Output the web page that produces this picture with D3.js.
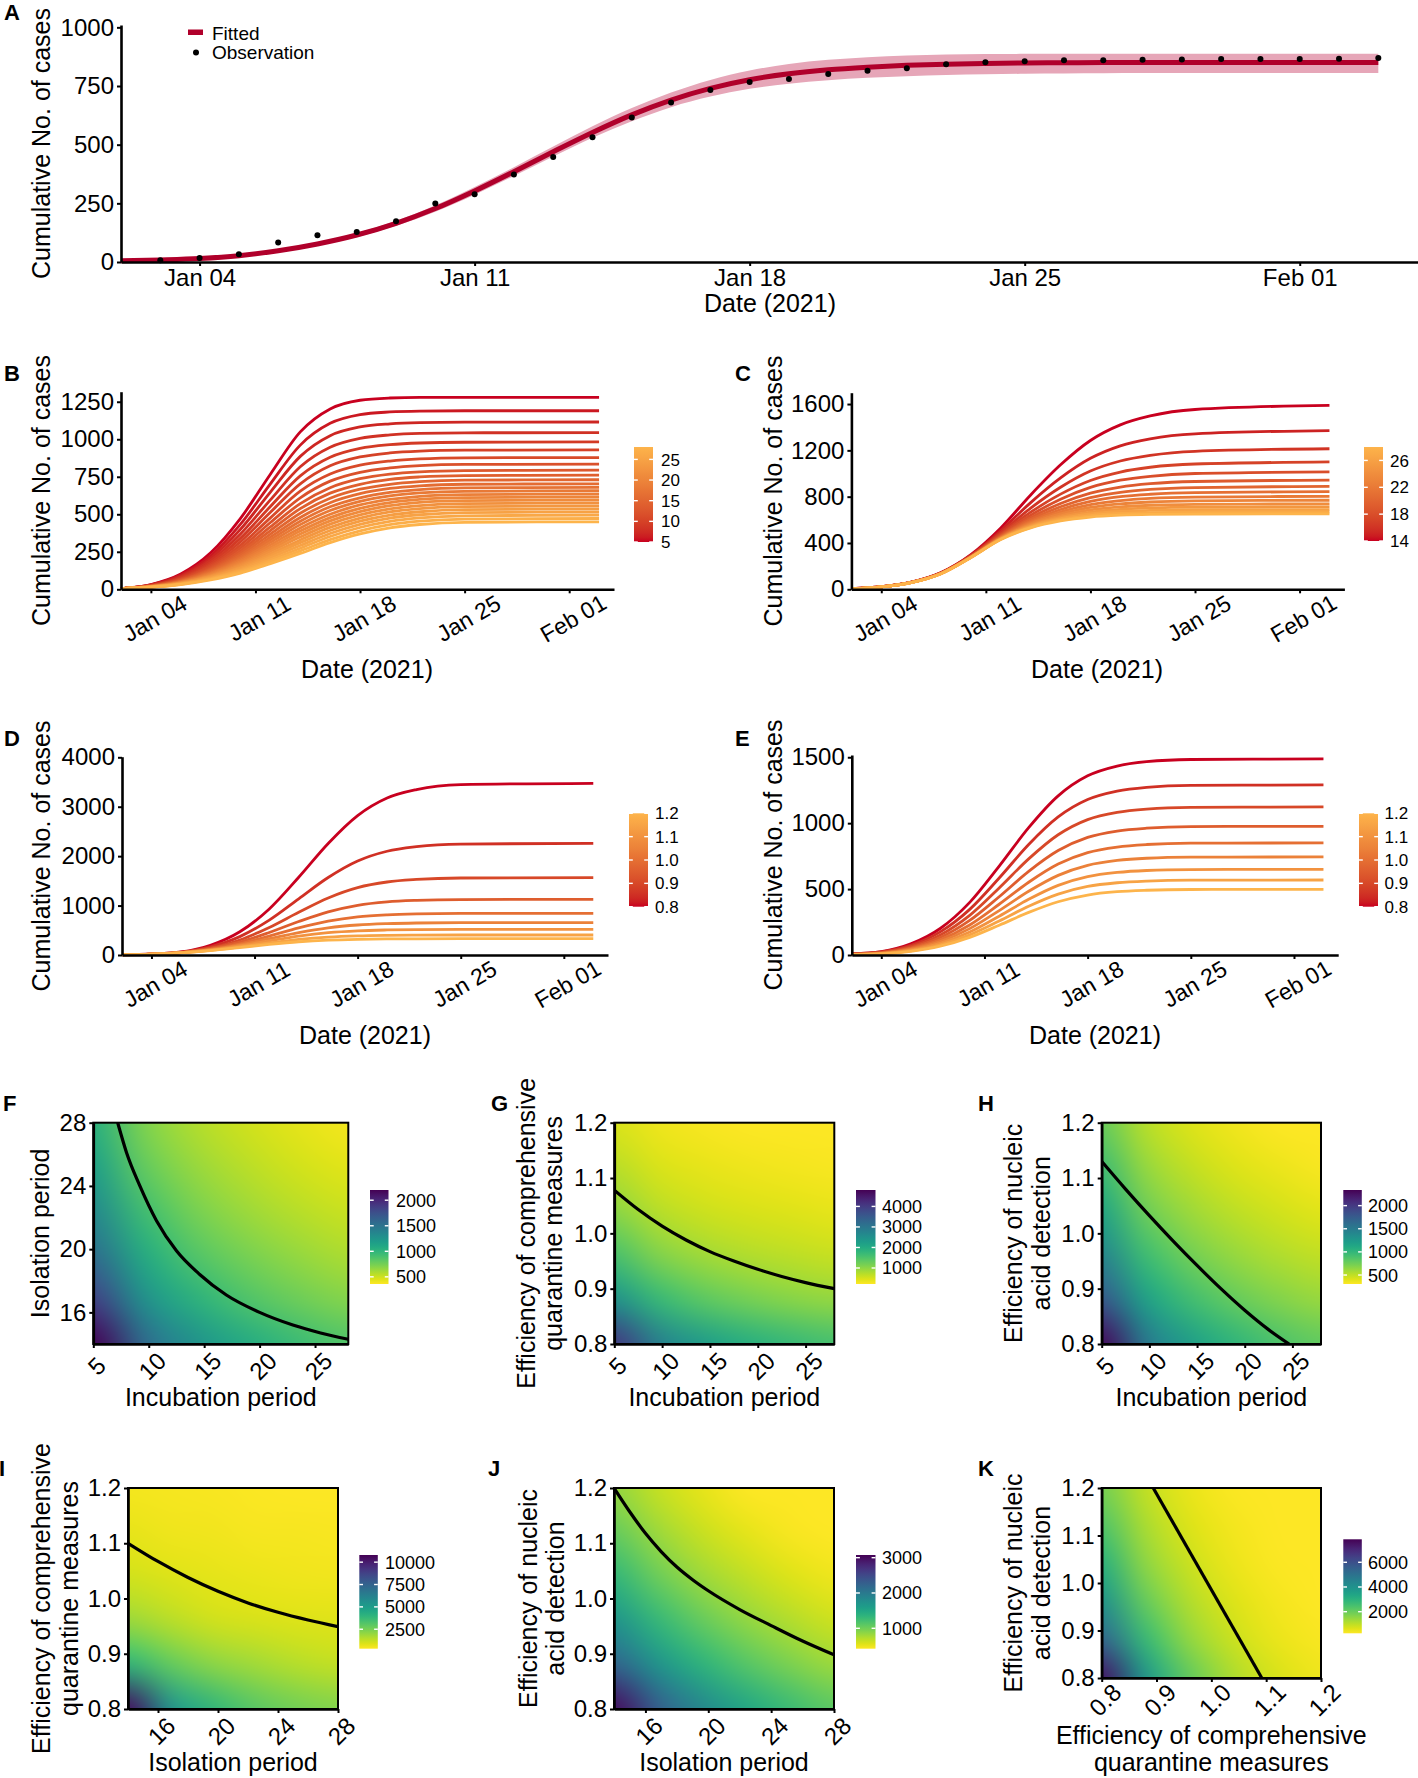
<!DOCTYPE html>
<html>
<head>
<meta charset="utf-8">
<title>Cumulative cases and sensitivity</title>
<script src="https://cdn.jsdelivr.net/npm/d3@7"></script>
<style>
  html, body { margin: 0; padding: 0; background: #fff; }
  svg { display: block; }
</style>
</head>
<body>
<div id="fig"></div>
<script>
// ---------- values ----------

// A: fitted curve + band, daily from Jan 02 to Feb 03
const fitted      = [5, 9, 15, 27, 48, 77, 115, 165, 228, 303, 385, 470, 552, 627, 690, 740, 777, 802, 819, 830, 838, 843, 846, 848, 849, 850, 850, 850, 850, 850, 850, 850, 850];
const fittedLower = [3, 8, 13, 24, 43, 70, 106, 154, 214, 287, 367, 450, 530, 600, 660, 705, 738, 760, 775, 785, 792, 797, 800, 802, 803, 804, 805, 805, 805, 805, 805, 805, 805];
const fittedUpper = [7, 10, 17, 30, 53, 84, 124, 176, 242, 320, 404, 492, 578, 656, 722, 776, 816, 844, 862, 873, 880, 884, 886, 887, 888, 888, 888, 888, 888, 888, 888, 888, 888];
// observations, daily from Jan 03 to Feb 03
const observed = [7, 17, 33, 83, 114, 128, 174, 249, 289, 373, 448, 532, 616, 680, 733, 767, 780, 801, 815, 826, 843, 851, 856, 860, 860, 862, 863, 865, 865, 865, 866, 869];

// B-E: curves sampled on these dates
const sampleDays = ['2021-01-02', '2021-01-04', '2021-01-06', '2021-01-08', '2021-01-10', '2021-01-12',
  '2021-01-14', '2021-01-16', '2021-01-18', '2021-01-20', '2021-01-22', '2021-01-25', '2021-02-03'];
const dateTicks = ['2021-01-04', '2021-01-11', '2021-01-18', '2021-01-25', '2021-02-01'];

const incubationLevels = [5, 6, 7, 8, 9, 10, 11, 12, 13, 14, 15, 16, 17, 18, 19, 20, 21, 22, 23, 24, 25, 26, 27, 28];
const casesByIncubation = [
  [5, 32, 102, 243, 473, 767, 1049, 1202, 1260, 1275, 1279, 1279, 1279],
  [5, 30, 95, 223, 434, 703, 961, 1106, 1164, 1182, 1188, 1190, 1190],
  [5, 28, 88, 207, 400, 648, 886, 1024, 1082, 1103, 1111, 1114, 1115],
  [5, 27, 82, 192, 369, 596, 817, 947, 1006, 1029, 1039, 1043, 1044],
  [5, 25, 77, 178, 341, 552, 756, 880, 939, 964, 975, 980, 982],
  [5, 24, 72, 166, 317, 513, 703, 823, 882, 909, 921, 927, 929],
  [5, 23, 68, 155, 295, 476, 654, 768, 827, 855, 869, 876, 878],
  [5, 22, 64, 146, 276, 445, 610, 721, 780, 809, 824, 832, 834],
  [5, 21, 61, 137, 258, 416, 571, 677, 737, 768, 783, 791, 794],
  [5, 21, 58, 130, 243, 391, 538, 641, 700, 733, 749, 758, 761],
  [5, 20, 55, 123, 229, 368, 507, 607, 667, 700, 717, 727, 730],
  [5, 19, 53, 117, 216, 348, 479, 577, 637, 672, 690, 700, 703],
  [5, 19, 51, 111, 205, 330, 454, 550, 610, 646, 665, 676, 679],
  [5, 18, 49, 106, 195, 313, 431, 525, 586, 623, 642, 653, 657],
  [5, 18, 47, 101, 185, 296, 409, 500, 562, 599, 620, 631, 635],
  [5, 17, 45, 97, 175, 281, 388, 478, 540, 578, 599, 611, 615],
  [5, 17, 43, 92, 166, 266, 368, 456, 518, 557, 579, 591, 595],
  [5, 17, 42, 88, 158, 252, 348, 434, 496, 536, 558, 571, 575],
  [5, 16, 40, 84, 149, 237, 329, 413, 475, 516, 538, 551, 555],
  [5, 16, 38, 80, 141, 224, 311, 392, 454, 495, 517, 531, 535],
  [5, 15, 37, 75, 132, 211, 292, 372, 433, 475, 497, 511, 515],
  [5, 15, 35, 71, 124, 197, 274, 352, 412, 453, 476, 490, 494],
  [5, 14, 33, 67, 116, 184, 256, 331, 390, 431, 454, 468, 472],
  [5, 14, 32, 63, 108, 171, 239, 311, 369, 410, 432, 446, 450]
];

const isolationLevels = [14, 15, 16, 17, 18, 19, 20, 21, 22, 23, 24, 25, 26, 27, 28];
const casesByIsolation = [
  [5, 22, 62, 145, 300, 530, 815, 1075, 1285, 1420, 1497, 1553, 1589],
  [5, 22, 61, 143, 294, 507, 749, 962, 1131, 1239, 1300, 1343, 1371],
  [5, 22, 60, 141, 290, 490, 701, 881, 1021, 1108, 1157, 1192, 1214],
  [5, 21, 60, 140, 287, 478, 666, 822, 940, 1013, 1054, 1082, 1100],
  [5, 21, 60, 139, 285, 469, 640, 778, 880, 942, 976, 1000, 1014],
  [5, 21, 59, 138, 283, 461, 619, 741, 830, 883, 912, 931, 943],
  [5, 21, 59, 138, 281, 455, 602, 713, 792, 838, 863, 879, 889],
  [5, 21, 59, 137, 280, 450, 588, 689, 759, 800, 821, 835, 843],
  [5, 21, 59, 137, 279, 446, 576, 669, 731, 766, 785, 796, 803],
  [5, 21, 58, 136, 278, 443, 566, 651, 707, 738, 754, 764, 769],
  [5, 21, 58, 136, 277, 439, 556, 635, 685, 712, 726, 734, 738],
  [5, 21, 58, 136, 277, 437, 549, 622, 667, 691, 702, 709, 712],
  [5, 21, 58, 135, 276, 434, 542, 610, 651, 672, 681, 687, 689],
  [5, 21, 58, 135, 275, 432, 535, 599, 637, 655, 663, 667, 669],
  [5, 21, 58, 135, 275, 430, 530, 590, 624, 640, 647, 650, 651]
];

const quarantineLevels = [0.8, 0.85, 0.9, 0.95, 1.0, 1.05, 1.1, 1.15, 1.2];
const casesByQuarantine = [
  [7, 21, 61, 196, 470, 932, 1573, 2256, 2820, 3176, 3347, 3446, 3474],
  [6, 19, 56, 166, 372, 706, 1137, 1567, 1901, 2099, 2192, 2245, 2260],
  [6, 17, 50, 142, 304, 558, 865, 1154, 1363, 1477, 1528, 1558, 1565],
  [5, 16, 50, 127, 260, 456, 677, 872, 1005, 1074, 1105, 1122, 1126],
  [5, 15, 48, 114, 226, 382, 547, 684, 771, 812, 831, 841, 843],
  [5, 16, 48, 108, 204, 329, 454, 550, 607, 634, 647, 653, 654],
  [6, 17, 47, 101, 185, 287, 383, 452, 490, 507, 515, 519, 519],
  [6, 18, 46, 94, 164, 243, 314, 361, 386, 397, 402, 405, 405],
  [6, 19, 45, 89, 150, 214, 268, 302, 318, 325, 328, 330, 330]
];

const detectionLevels = [0.8, 0.85, 0.9, 0.95, 1.0, 1.05, 1.1, 1.15, 1.2];
const casesByDetection = [
  [9, 26, 84, 201, 399, 674, 966, 1207, 1359, 1433, 1466, 1483, 1487],
  [8, 23, 73, 175, 346, 584, 838, 1047, 1179, 1243, 1272, 1287, 1290],
  [7, 20, 63, 152, 301, 509, 729, 912, 1027, 1082, 1107, 1120, 1123],
  [6, 17, 55, 132, 262, 442, 634, 792, 892, 940, 962, 974, 976],
  [5, 15, 48, 115, 228, 385, 552, 690, 777, 819, 838, 848, 850],
  [4, 13, 42, 101, 200, 337, 483, 604, 680, 717, 734, 742, 744],
  [4, 11, 37, 88, 174, 294, 422, 528, 594, 626, 641, 648, 650],
  [3, 10, 32, 77, 153, 258, 370, 462, 520, 548, 561, 568, 569],
  [3, 9, 28, 67, 134, 226, 323, 404, 455, 480, 491, 497, 498]
];

// F-K: final case counts on a coarse grid (rows = y from low to high, cols = x from low to high)
const gridIncubation = [5, 9.6, 14.2, 18.8, 23.4, 28];
const gridIsolation  = [14, 16.8, 19.6, 22.4, 25.2, 28];
const gridEfficiency = [0.8, 0.88, 0.96, 1.04, 1.12, 1.2];

const heatF = [
  [2267, 1573, 1264, 1080, 955, 864],
  [1841, 1278, 1026, 877, 776, 702],
  [1545, 1072, 861, 736, 651, 589],
  [1326, 921, 739, 632, 559, 506],
  [1160, 805, 646, 552, 489, 442],
  [1029, 714, 573, 490, 433, 392]
];
const heatG = [
  [4080, 2850, 2298, 1969, 1746, 1582],
  [2469, 1725, 1390, 1192, 1056, 957],
  [1561, 1090, 879, 753, 668, 605],
  [1024, 715, 577, 494, 438, 397],
  [693, 484, 390, 334, 296, 269],
  [482, 336, 271, 232, 206, 187]
];
const heatH = [
  [2300, 1542, 1213, 1021, 893, 800],
  [1783, 1195, 940, 792, 692, 620],
  [1414, 948, 746, 628, 549, 492],
  [1142, 765, 602, 507, 443, 397],
  [937, 628, 494, 416, 364, 326],
  [779, 522, 411, 346, 302, 271]
];
const heatI = [
  [10500, 5600, 4000, 3100, 2600, 2300],
  [4000, 2900, 2200, 1800, 1500, 1300],
  [1900, 1450, 1100, 950, 880, 820],
  [1050, 860, 740, 660, 610, 570],
  [700, 600, 530, 480, 450, 420],
  [520, 460, 410, 380, 355, 335]
];
const heatJ = [
  [3000, 2304, 1843, 1519, 1281, 1100],
  [2230, 1713, 1370, 1129, 953, 818],
  [1701, 1307, 1045, 862, 727, 624],
  [1326, 1019, 815, 672, 566, 486],
  [1053, 809, 647, 533, 450, 386],
  [850, 653, 522, 430, 363, 312]
];
const heatK = [
  [7503, 3851, 2095, 1196, 712, 439],
  [5398, 2771, 1507, 861, 512, 316],
  [3997, 2052, 1116, 637, 379, 234],
  [3031, 1556, 846, 483, 288, 178],
  [2347, 1204, 655, 374, 223, 137],
  [1849, 949, 516, 295, 175, 108]
];

// black threshold lines [x, y]
const contourF = [[7.2, 28], [8.0, 26.1], [9.2, 24.0], [10.7, 21.8], [12.5, 19.9], [14.6, 18.4], [17.0, 17.1], [20.0, 16.0], [23.0, 15.2], [25.5, 14.7], [28, 14.3]];
const contourG = [[5, 1.078], [7.5, 1.043], [10, 1.013], [12.5, 0.988], [15, 0.967], [17.5, 0.95], [20, 0.935], [22.5, 0.922], [25, 0.911], [28, 0.9]];
const contourH = [[5, 1.13], [7.5, 1.08], [10, 1.032], [12.5, 0.986], [15, 0.942], [17.5, 0.9], [20, 0.861], [22.5, 0.826], [24.65, 0.8]];
const contourI = [[14, 1.1], [16, 1.067], [18, 1.038], [20, 1.013], [22, 0.992], [24, 0.975], [26, 0.961], [28, 0.949]];
const contourJ = [[14, 1.2], [15, 1.157], [16, 1.118], [17, 1.085], [18, 1.057], [19, 1.034], [20, 1.014], [22, 0.98], [24, 0.951], [26, 0.923], [28, 0.898]];
const contourK = [[0.894, 1.2], [1.092, 0.8]];

// ---------- drawing ----------
const FONT = '"Liberation Sans", Arial, Helvetica, sans-serif';
const svg = d3.select('#fig').append('svg')
  .attr('width', 1418).attr('height', 1778)
  .attr('font-family', FONT);
const defs = svg.append('defs');

const parseDay = d3.timeParse('%Y-%m-%d');
const sampleDates = sampleDays.map(parseDay);
const tickDates = dateTicks.map(parseDay);
const dayStart = new Date(2021, 0, 2);
const dayEnd = new Date(2021, 1, 4);
const fmtDate = d3.timeFormat('%b %d');
const intFmt = d3.format('d');
const effFmt = d3.format('.1f');
const lowRed = '#C8001F';
const highOrange = '#FDB44B';

function styleAxis(ax, size) {
  ax.attr('font-family', FONT).attr('font-size', size);
  ax.select('.domain').attr('stroke', '#000').attr('stroke-width', 2.6);
  ax.selectAll('.tick line').attr('stroke', '#000').attr('stroke-width', 2);
  ax.selectAll('.tick text').attr('fill', '#000');
}

function addText(x, y, str, opts = {}) {
  const t = svg.append('text').attr('x', x).attr('y', y).text(str)
    .attr('font-size', opts.size || 25).attr('fill', '#000')
    .attr('text-anchor', opts.anchor || 'middle');
  if (opts.bold) t.attr('font-weight', 'bold');
  if (opts.rotate) t.attr('transform', `rotate(-90, ${x}, ${y})`);
  return t;
}

function colorbar(b, color, id, fmt, size) {
  const grad = defs.append('linearGradient').attr('id', id)
    .attr('x1', 0).attr('y1', 1).attr('x2', 0).attr('y2', 0);
  d3.range(0, 1.0001, 0.05).forEach(t => {
    grad.append('stop').attr('offset', t).attr('stop-color', color(b.lo + t * (b.hi - b.lo)));
  });
  const w = b.w || 19;
  svg.append('rect').attr('x', b.x).attr('y', b.y0).attr('width', w).attr('height', b.y1 - b.y0)
    .attr('fill', `url(#${id})`);
  const s = d3.scaleLinear().domain([b.lo, b.hi]).range([b.y1, b.y0]);
  const g = svg.append('g');
  b.ticks.forEach(v => {
    g.append('line').attr('x1', b.x).attr('x2', b.x + w * 0.2).attr('y1', s(v)).attr('y2', s(v))
      .attr('stroke', '#fff').attr('stroke-width', 1.4);
    g.append('line').attr('x1', b.x + w * 0.8).attr('x2', b.x + w).attr('y1', s(v)).attr('y2', s(v))
      .attr('stroke', '#fff').attr('stroke-width', 1.4);
    g.append('text').attr('x', b.lx).attr('y', s(v)).attr('dy', '0.36em')
      .attr('font-size', size).attr('fill', '#000').text(fmt(v));
  });
}

// ---- panel A ----
(function () {
  const x = d3.scaleTime().domain([dayStart, dayEnd]).range([121, 1417.6]);
  const y = d3.scaleLinear().domain([0, 1010]).range([262, 25]);
  const day = i => d3.timeDay.offset(dayStart, i);

  const band = d3.area()
    .x((d, i) => x(day(i)))
    .y0((d, i) => y(fittedLower[i]))
    .y1((d, i) => y(fittedUpper[i]))
    .curve(d3.curveMonotoneX);
  svg.append('path').attr('d', band(fitted)).attr('fill', '#E6A6B8');

  const line = d3.line().x((d, i) => x(day(i))).y(d => y(d)).curve(d3.curveMonotoneX);
  svg.append('path').attr('d', line(fitted)).attr('fill', 'none')
    .attr('stroke', '#B0002B').attr('stroke-width', 5);

  svg.append('g').selectAll('circle').data(observed).join('circle')
    .attr('cx', (d, i) => x(day(i + 1))).attr('cy', d => y(d)).attr('r', 3).attr('fill', '#000');

  const ax = svg.append('g').attr('transform', 'translate(0,262)')
    .call(d3.axisBottom(x).tickValues(tickDates).tickFormat(fmtDate).tickSize(4).tickSizeOuter(0));
  styleAxis(ax, 24);
  const ay = svg.append('g').attr('transform', 'translate(121,0)')
    .call(d3.axisLeft(y).tickValues([0, 250, 500, 750, 1000]).tickFormat(intFmt).tickSize(4).tickSizeOuter(0));
  styleAxis(ay, 24);

  addText(50, 143.5, 'Cumulative No. of cases', { rotate: true });
  addText(770, 312, 'Date (2021)');
  addText(4, 19.5, 'A', { anchor: 'start', bold: true, size: 22 });

  // legend
  svg.append('rect').attr('x', 188).attr('y', 29.5).attr('width', 15).attr('height', 5.5).attr('fill', '#B0002B');
  addText(212, 39.5, 'Fitted', { anchor: 'start', size: 19 });
  svg.append('circle').attr('cx', 196).attr('cy', 52.5).attr('r', 3).attr('fill', '#000');
  addText(212, 59, 'Observation', { anchor: 'start', size: 19 });
})();

// ---- panels B-E ----
const linePanels = [
  { letter: 'B', lx: 4, ly: 381, x0: 121, x1: 614, yBase: 589.3, yTop: 391.7, yMax: 1317,
    yTicks: [0, 250, 500, 750, 1000, 1250], levels: incubationLevels, series: casesByIncubation,
    titleX: 50, titleCY: 490.5, xTitleX: 367, xTitleY: 678,
    bar: { x: 634, y0: 447, y1: 542, lo: 5, hi: 28, ticks: [5, 10, 15, 20, 25], lx: 661 }, fmt: intFmt },
  { letter: 'C', lx: 735, ly: 381, x0: 851.4, x1: 1344.4, yBase: 589.3, yTop: 392.7, yMax: 1698,
    yTicks: [0, 400, 800, 1200, 1600], levels: isolationLevels, series: casesByIsolation,
    titleX: 782, titleCY: 491, xTitleX: 1097, xTitleY: 678,
    bar: { x: 1364, y0: 447, y1: 541, lo: 14, hi: 28, ticks: [14, 18, 22, 26], lx: 1390 }, fmt: intFmt },
  { letter: 'D', lx: 4, ly: 746, x0: 122, x1: 608, yBase: 955, yTop: 756.7, yMax: 4012,
    yTicks: [0, 1000, 2000, 3000, 4000], levels: quarantineLevels, series: casesByQuarantine,
    titleX: 50, titleCY: 856, xTitleX: 365, xTitleY: 1044,
    bar: { x: 629, y0: 813.3, y1: 906.7, lo: 0.8, hi: 1.2, ticks: [0.8, 0.9, 1.0, 1.1, 1.2], lx: 655 }, fmt: effFmt },
  { letter: 'E', lx: 735, ly: 746, x0: 851.8, x1: 1338.2, yBase: 955, yTop: 755, yMax: 1517,
    yTicks: [0, 500, 1000, 1500], levels: detectionLevels, series: casesByDetection,
    titleX: 782, titleCY: 855, xTitleX: 1095, xTitleY: 1044,
    bar: { x: 1359, y0: 813.3, y1: 906.7, lo: 0.8, hi: 1.2, ticks: [0.8, 0.9, 1.0, 1.1, 1.2], lx: 1384.5 }, fmt: effFmt }
];

linePanels.forEach(p => {
  const x = d3.scaleTime().domain([dayStart, dayEnd]).range([p.x0, p.x1]);
  const y = d3.scaleLinear().domain([0, p.yMax]).range([p.yBase, p.yTop]);
  const color = d3.scaleLinear().domain([p.bar.lo, p.bar.hi]).range([lowRed, highOrange])
    .interpolate(d3.interpolateLab);
  const line = d3.line().x((d, i) => x(sampleDates[i])).y(d => y(d)).curve(d3.curveMonotoneX);

  svg.append('g').selectAll('path').data(p.series).join('path')
    .attr('d', line).attr('fill', 'none')
    .attr('stroke', (d, i) => color(p.levels[i])).attr('stroke-width', 2.8);

  const ax = svg.append('g').attr('transform', `translate(0,${p.yBase})`)
    .call(d3.axisBottom(x).tickValues(tickDates).tickFormat(fmtDate).tickSize(4).tickSizeOuter(0));
  styleAxis(ax, 23);
  ax.selectAll('.tick text')
    .attr('y', 0).attr('dy', '0.35em').attr('text-anchor', 'middle')
    .attr('transform', 'translate(3.5,29) rotate(-30)');
  const ay = svg.append('g').attr('transform', `translate(${p.x0},0)`)
    .call(d3.axisLeft(y).tickValues(p.yTicks).tickFormat(intFmt).tickSize(4).tickSizeOuter(0));
  styleAxis(ay, 24);

  addText(p.titleX, p.titleCY, 'Cumulative No. of cases', { rotate: true });
  addText(p.xTitleX, p.xTitleY, 'Date (2021)');
  addText(p.lx, p.ly, p.letter, { anchor: 'start', bold: true, size: 22 });
  colorbar(p.bar, color, 'bar' + p.letter, p.fmt, 17);
});

// ---- panels F-K ----
const heatPanels = [
  { letter: 'F', lx: 3, ly: 1111, x0: 93.3, x1: 348.3, y0: 1122.7, y1: 1344, xDom: [5, 28], yDom: [14, 28],
    gx: gridIncubation, gy: gridIsolation, grid: heatF, contour: contourF,
    xTicks: [5, 10, 15, 20, 25], xFmt: intFmt, yTicks: [16, 20, 24, 28], yFmt: intFmt,
    yTitle: ['Isolation period'], yTitleX: [49], xTitle: ['Incubation period'], xTitleY: [1406],
    bar: { x: 370, w: 18.5, y0: 1190, y1: 1284, lo: 360, hi: 2200, ticks: [500, 1000, 1500, 2000], lx: 396 } },
  { letter: 'G', lx: 491, ly: 1111, x0: 614.3, x1: 834.3, y0: 1122.7, y1: 1344, xDom: [5, 28], yDom: [0.8, 1.2],
    gx: gridIncubation, gy: gridEfficiency, grid: heatG, contour: contourG,
    xTicks: [5, 10, 15, 20, 25], xFmt: intFmt, yTicks: [0.8, 0.9, 1.0, 1.1, 1.2], yFmt: effFmt,
    yTitle: ['Efficiency of comprehensive', 'quarantine measures'], yTitleX: [535, 562],
    xTitle: ['Incubation period'], xTitleY: [1406],
    bar: { x: 856, w: 19.5, y0: 1190, y1: 1284, lo: 220, hi: 4800, ticks: [1000, 2000, 3000, 4000], lx: 882 } },
  { letter: 'H', lx: 978, ly: 1111, x0: 1101.7, x1: 1321, y0: 1122.7, y1: 1344, xDom: [5, 28], yDom: [0.8, 1.2],
    gx: gridIncubation, gy: gridEfficiency, grid: heatH, contour: contourH,
    xTicks: [5, 10, 15, 20, 25], xFmt: intFmt, yTicks: [0.8, 0.9, 1.0, 1.1, 1.2], yFmt: effFmt,
    yTitle: ['Efficiency of nucleic', 'acid detection'], yTitleX: [1022, 1050],
    xTitle: ['Incubation period'], xTitleY: [1406],
    bar: { x: 1343.3, w: 18.5, y0: 1190, y1: 1284, lo: 306, hi: 2338, ticks: [500, 1000, 1500, 2000], lx: 1368 } },
  { letter: 'I', lx: -1, ly: 1476, x0: 128, x1: 338, y0: 1488, y1: 1709, xDom: [14, 28], yDom: [0.8, 1.2],
    gx: gridIsolation, gy: gridEfficiency, grid: heatI, contour: contourI,
    xTicks: [16, 20, 24, 28], xFmt: intFmt, yTicks: [0.8, 0.9, 1.0, 1.1, 1.2], yFmt: effFmt,
    yTitle: ['Efficiency of comprehensive', 'quarantine measures'], yTitleX: [49.5, 77.5],
    xTitle: ['Isolation period'], xTitleY: [1771],
    bar: { x: 359.3, w: 18.5, y0: 1555, y1: 1648.7, lo: 325, hi: 10800, ticks: [2500, 5000, 7500, 10000], lx: 385 } },
  { letter: 'J', lx: 488, ly: 1476, x0: 614, x1: 834, y0: 1488, y1: 1709, xDom: [14, 28], yDom: [0.8, 1.2],
    gx: gridIsolation, gy: gridEfficiency, grid: heatJ, contour: contourJ,
    xTicks: [16, 20, 24, 28], xFmt: intFmt, yTicks: [0.8, 0.9, 1.0, 1.1, 1.2], yFmt: effFmt,
    yTitle: ['Efficiency of nucleic', 'acid detection'], yTitleX: [536.5, 564],
    xTitle: ['Isolation period'], xTitleY: [1771],
    bar: { x: 856, w: 19.5, y0: 1555, y1: 1648.7, lo: 422, hi: 3076, ticks: [1000, 2000, 3000], lx: 882 } },
  { letter: 'K', lx: 978, ly: 1476, x0: 1101.7, x1: 1321, y0: 1488, y1: 1678, xDom: [0.8, 1.2], yDom: [0.8, 1.2],
    gx: gridEfficiency, gy: gridEfficiency, grid: heatK, contour: contourK,
    xTicks: [0.8, 0.9, 1.0, 1.1, 1.2], xFmt: effFmt, yTicks: [0.8, 0.9, 1.0, 1.1, 1.2], yFmt: effFmt,
    yTitle: ['Efficiency of nucleic', 'acid detection'], yTitleX: [1022, 1050],
    xTitle: ['Efficiency of comprehensive', 'quarantine measures'], xTitleY: [1744, 1771],
    bar: { x: 1343.3, w: 18.5, y0: 1539.3, y1: 1633.3, lo: 250, hi: 7860, ticks: [2000, 4000, 6000], lx: 1368 } }
];

heatPanels.forEach(p => {
  const x = d3.scaleLinear().domain(p.xDom).range([p.x0, p.x1]);
  const y = d3.scaleLinear().domain(p.yDom).range([p.y1, p.y0]);
  const color = d3.scaleSequential(d3.interpolateViridis).domain([p.bar.hi, p.bar.lo]).clamp(true);

  // paint the coarse grid into a tiny canvas, then let the browser smooth it up to plot size
  const nx = p.gx.length, ny = p.gy.length;
  const small = document.createElement('canvas');
  small.width = nx; small.height = ny;
  const sctx = small.getContext('2d');
  const img = sctx.createImageData(nx, ny);
  p.grid.forEach((row, j) => row.forEach((v, i) => {
    const c = d3.rgb(color(v));
    const k = ((ny - 1 - j) * nx + i) * 4;
    img.data[k] = c.r; img.data[k + 1] = c.g; img.data[k + 2] = c.b; img.data[k + 3] = 255;
  }));
  sctx.putImageData(img, 0, 0);

  const W = Math.round(p.x1 - p.x0), H = Math.round(p.y1 - p.y0);
  const big = document.createElement('canvas');
  big.width = W; big.height = H;
  const bctx = big.getContext('2d');
  bctx.imageSmoothingEnabled = true;
  bctx.imageSmoothingQuality = 'high';
  const dx = x(p.gx[1]) - x(p.gx[0]);
  const dy = y(p.gy[ny - 2]) - y(p.gy[ny - 1]);
  bctx.drawImage(small, x(p.gx[0]) - p.x0 - dx / 2, y(p.gy[ny - 1]) - p.y0 - dy / 2, W + dx, H + dy);

  svg.append('image').attr('x', p.x0).attr('y', p.y0).attr('width', p.x1 - p.x0).attr('height', p.y1 - p.y0)
    .attr('preserveAspectRatio', 'none').attr('href', big.toDataURL());

  const clipId = 'clip' + p.letter;
  defs.append('clipPath').attr('id', clipId).append('rect')
    .attr('x', p.x0).attr('y', p.y0).attr('width', p.x1 - p.x0).attr('height', p.y1 - p.y0);
  svg.append('path').attr('clip-path', `url(#${clipId})`)
    .attr('d', d3.line().x(d => x(d[0])).y(d => y(d[1])).curve(d3.curveMonotoneX)(p.contour))
    .attr('fill', 'none').attr('stroke', '#000').attr('stroke-width', 3.2);

  svg.append('rect').attr('x', p.x0).attr('y', p.y0).attr('width', p.x1 - p.x0).attr('height', p.y1 - p.y0)
    .attr('fill', 'none').attr('stroke', '#000').attr('stroke-width', 2);

  const ax = svg.append('g').attr('transform', `translate(0,${p.y1})`)
    .call(d3.axisBottom(x).tickValues(p.xTicks).tickFormat(p.xFmt).tickSize(4).tickSizeOuter(0));
  styleAxis(ax, 24);
  ax.selectAll('.tick text')
    .attr('y', 0).attr('dy', '0.35em').attr('text-anchor', 'middle')
    .attr('transform', 'translate(3,22) rotate(-45)');
  const ay = svg.append('g').attr('transform', `translate(${p.x0},0)`)
    .call(d3.axisLeft(y).tickValues(p.yTicks).tickFormat(p.yFmt).tickSize(4).tickSizeOuter(0));
  styleAxis(ay, 24);

  const cy = (p.y0 + p.y1) / 2;
  p.yTitle.forEach((t, i) => addText(p.yTitleX[i], cy, t, { rotate: true }));
  p.xTitle.forEach((t, i) => addText((p.x0 + p.x1) / 2, p.xTitleY[i], t));
  addText(p.lx, p.ly, p.letter, { anchor: 'start', bold: true, size: 22 });
  colorbar(p.bar, color, 'bar' + p.letter, intFmt, 18);
});
</script>
</body>
</html>
